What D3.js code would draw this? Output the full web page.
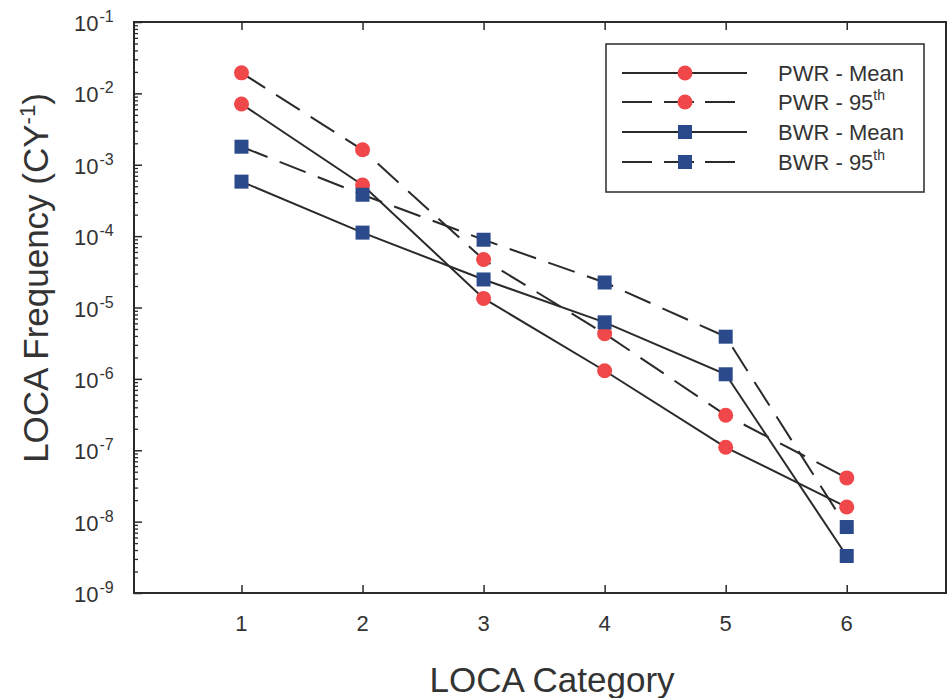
<!DOCTYPE html>
<html>
<head>
<meta charset="utf-8">
<script src="https://cdn.jsdelivr.net/npm/d3@7"></script>
<style>
  html, body { margin: 0; padding: 0; background: #fff; }
  svg { display: block; font-family: "Liberation Sans", Arial, Helvetica, sans-serif; }
</style>
</head>
<body>
<svg id="chart" width="948" height="698"></svg>
<script>
// ---- data ----
const categories = [1, 2, 3, 4, 5, 6];
const pwrMean = [7.1e-3, 5.2e-4, 1.34e-5, 1.3e-6, 1.1e-7, 1.6e-8];
const pwr95   = [1.94e-2, 1.62e-3, 4.7e-5, 4.3e-6, 3.1e-7, 4.1e-8];
const bwrMean = [5.8e-4, 1.12e-4, 2.47e-5, 6.2e-6, 1.16e-6, 3.3e-9];
const bwr95   = [1.79e-3, 3.8e-4, 8.9e-5, 2.24e-5, 3.9e-6, 8.4e-9];
const yTickExponents = [-1, -2, -3, -4, -5, -6, -7, -8, -9];
const seriesNames = ["PWR - Mean", "PWR - 95", "BWR - Mean", "BWR - 95"];

const RED = "#f0484a";
const BLUE = "#2b4a8c";
const INK = "#2a2a2a";
const TXT = "#333";

const series = [
  { name: seriesNames[0], sup: "",   values: pwrMean, marker: "circle", dash: null },
  { name: seriesNames[1], sup: "th", values: pwr95,   marker: "circle", dash: "28,13" },
  { name: seriesNames[2], sup: "",   values: bwrMean, marker: "square", dash: null },
  { name: seriesNames[3], sup: "th", values: bwr95,   marker: "square", dash: "28,13" }
];

const svg = d3.select("#chart");
const L = 134, R = 946, T = 22, B = 593;

const x = d3.scaleLinear().domain([0.112, 6.82]).range([L, R]);
const y = d3.scaleLog().domain([1e-9, 1e-1]).range([B, T]);

// minor tick values
const minorVals = [];
for (let e = -9; e < -1; e++) {
  for (let m = 2; m <= 9; m++) minorVals.push(m * Math.pow(10, e));
}
const majorVals = yTickExponents.map(e => Math.pow(10, e));

// left axis majors & minors (inward)
svg.append("g").attr("transform", `translate(${L},0)`)
  .call(d3.axisLeft(y).tickValues(majorVals).tickSize(-8).tickFormat(""))
  .call(g => g.select(".domain").remove())
  .selectAll("line").attr("stroke", INK).attr("stroke-width", 1.5);
svg.append("g").attr("transform", `translate(${L},0)`)
  .call(d3.axisLeft(y).tickValues(minorVals).tickSize(-4).tickFormat(""))
  .call(g => g.select(".domain").remove())
  .selectAll("line").attr("stroke", INK).attr("stroke-width", 1.3);

// bottom axis (inward ticks)
svg.append("g").attr("transform", `translate(0,${B})`)
  .call(d3.axisBottom(x).tickValues(categories).tickSize(-8).tickFormat(""))
  .call(g => g.select(".domain").remove())
  .selectAll("line").attr("stroke", INK).attr("stroke-width", 1.5);
// top axis (inward ticks)
svg.append("g").attr("transform", `translate(0,${T})`)
  .call(d3.axisTop(x).tickValues(categories).tickSize(-8).tickFormat(""))
  .call(g => g.select(".domain").remove())
  .selectAll("line").attr("stroke", INK).attr("stroke-width", 1.5);

// frame
svg.append("rect").attr("x", L).attr("y", T).attr("width", R - L).attr("height", B - T)
  .attr("fill", "none").attr("stroke", INK).attr("stroke-width", 2);

// y tick labels
const yl = svg.append("g").attr("fill", TXT);
yTickExponents.forEach(e => {
  const t = yl.append("text").attr("x", 74).attr("y", y(Math.pow(10, e)) + 9)
    .attr("font-size", 22);
  t.append("tspan").text("10");
  t.append("tspan").attr("dx", 1).attr("dy", -9).attr("font-size", 16).text(String(e));
});

// x tick labels
svg.append("g").attr("fill", TXT).selectAll("text").data(categories).join("text")
  .attr("x", d => x(d)).attr("y", 631).attr("text-anchor", "middle")
  .attr("font-size", 22).text(d => d);

// axis titles
svg.append("text").attr("x", 552).attr("y", 692).attr("text-anchor", "middle")
  .attr("font-size", 35).attr("fill", TXT).text("LOCA Category");

const yt = svg.append("text")
  .attr("transform", "translate(48,278) rotate(-90)")
  .attr("text-anchor", "middle").attr("font-size", 35).attr("fill", TXT);
yt.append("tspan").text("LOCA Frequency (CY");
yt.append("tspan").attr("dy", -13).attr("font-size", 22).text("-1");
yt.append("tspan").attr("dy", 13).text(")");

// lines
const line = d3.line().x((d, i) => x(categories[i])).y(d => y(d));
series.forEach(s => {
  svg.append("path").datum(s.values).attr("d", line)
    .attr("fill", "none").attr("stroke", INK).attr("stroke-width", 2)
    .attr("stroke-dasharray", s.dash);
});

// markers
function drawMarker(g, type, cx, cy) {
  if (type === "circle") {
    g.append("circle").attr("cx", cx).attr("cy", cy).attr("r", 7.5).attr("fill", RED);
  } else {
    g.append("rect").attr("x", cx - 7).attr("y", cy - 7).attr("width", 14).attr("height", 14)
      .attr("fill", BLUE);
  }
}
const mg = svg.append("g");
series.forEach(s => {
  s.values.forEach((v, i) => drawMarker(mg, s.marker, x(categories[i]), y(v)));
});

// legend
const lg = svg.append("g");
lg.append("rect").attr("x", 606).attr("y", 44).attr("width", 318).attr("height", 148)
  .attr("fill", "#fff").attr("stroke", INK).attr("stroke-width", 1.5);
const rowY = [73, 102, 132, 162];
series.forEach((s, i) => {
  const yy = rowY[i];
  if (s.dash) {
    [[622, 652], [664, 694], [705, 735]].forEach(([a, b]) =>
      lg.append("line").attr("x1", a).attr("x2", b).attr("y1", yy).attr("y2", yy)
        .attr("stroke", INK).attr("stroke-width", 2));
  } else {
    lg.append("line").attr("x1", 622).attr("x2", 747).attr("y1", yy).attr("y2", yy)
      .attr("stroke", INK).attr("stroke-width", 2);
  }
  drawMarker(lg, s.marker, 685, yy);
  const t = lg.append("text").attr("x", 778).attr("y", yy + 8).attr("font-size", 22).attr("fill", TXT);
  t.append("tspan").text(s.name);
  if (s.sup) t.append("tspan").attr("dy", -10).attr("font-size", 14).text(s.sup);
});
</script>
</body>
</html>
